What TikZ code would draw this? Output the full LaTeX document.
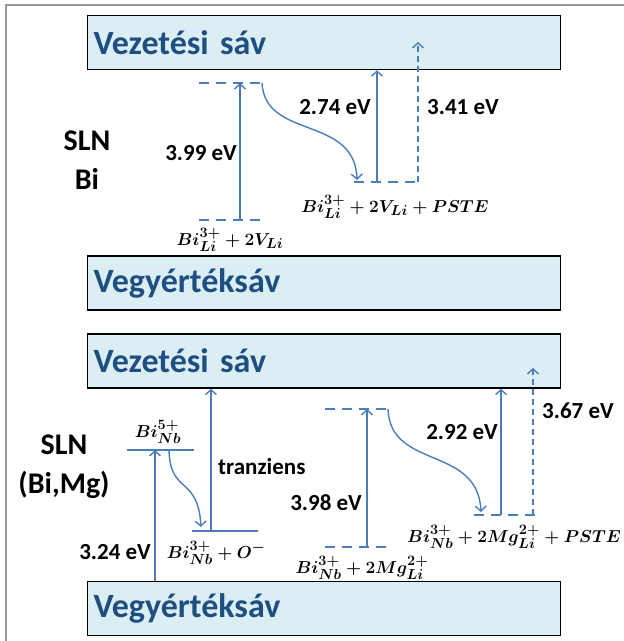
\documentclass[tikz,border=0pt]{standalone}
\usepackage{amsmath, amssymb}
\usepackage[no-math]{fontspec}
\setmainfont{Carlito}
\usepackage{tikz}
\usetikzlibrary{arrows.meta}
\definecolor{bandfill}{HTML}{DAEEF3}
\definecolor{bandtext}{HTML}{1F4E80}
\definecolor{lvl}{HTML}{4A7EBB}
\newcommand{\bandfont}{\fontsize{34}{38}\selectfont\bfseries\spaceskip 0.04em\relax}
\tikzset{
    x=1pt,
    y=-1pt,
    band/.style = {
        draw,
        shape=rectangle,
        fill=bandfill,
        line width=1.5pt,
        minimum width=473pt,
        minimum height=54pt,
        inner xsep=6pt,
        text width=461pt,
        align=left,
        text=bandtext,
        font=\bandfont
    },
    level/.style = {
        draw=lvl,
        line width=2.5pt
    },
    dlevel/.style = {
        level,
        dash pattern=on 10pt off 7pt
    },
    trans/.style = {
        draw=lvl,
        line width=1.4pt
    },
    dtrans/.style = {
        trans,
        dash pattern=on 6pt off 4pt
    },
    lbl/.style = {
        inner sep=0pt,
        font=\fontsize{23}{26}\selectfont\bfseries
    },
    sample/.style = {
        inner sep=0pt,
        align=center,
        font=\fontsize{30}{39}\selectfont\bfseries
    },
    formula/.style = {
        inner sep=0pt,
        anchor=base,
        font=\fontsize{19}{22}\selectfont\boldmath
    },
    >={Straight Barb[length=5pt,width=11pt]},
}
\begin{document}
\begin{tikzpicture}
    \useasboundingbox (0,0) rectangle (624,641);
    \draw[gray!80, line width=2pt] (6,641) -- (6,5) -- (624,5);

    % SLN Bi
    \node[band] (cond1) at (324,42.5) {Vezetési sáv};
    \node[band] (val1) at (324,283) {Vegyértéksáv};
    \node[sample] (slnbi) at (87,160) {SLN\\Bi};

    \coordinate (upA1) at (199,83);
    \coordinate (upA2) at (265,83);
    \coordinate (loA1) at (199,220);
    \coordinate (loA2) at (265,220);
    \coordinate (rtA1) at (354,182);
    \coordinate (rtA2) at (420,182);
    \coordinate (exA) at (240,83);
    \coordinate (gsA) at (240,220);
    \coordinate (relA) at (262,83);
    \coordinate (stA) at (357,180);
    \coordinate (pl1) at (377,182);
    \coordinate (pl2) at (418,182);
    \coordinate (topA) at (418,42);

    \path[dlevel] (upA1) -- (upA2);
    \path[dlevel] (loA1) -- (loA2);
    \path[dlevel] (rtA1) -- (rtA2);

    \path[trans, ->] (gsA) -- (exA);
    \path[trans, ->] (relA) .. controls (265,140) and (355,115) .. (stA);
    \path[trans, ->] (pl1) -- (pl1 |- cond1.south);
    \path[dtrans, ->] (pl2) -- (topA);

    \node[lbl, anchor=east] (e399) at (237,153) {3.99 eV};
    \node[lbl, anchor=east] (e274) at (371,107) {2.74 eV};
    \node[lbl, anchor=west] (e341) at (427,107) {3.41 eV};
    \node[formula] (defA) at (230,245) {$Bi_{Li}^{3+}+2V_{Li}$};
    \node[formula] (defB) at (395,212) {$Bi_{Li}^{3+}+2V_{Li}+PSTE$};

    % SLN (Bi,Mg)
    \node[band] (cond2) at (324,361) {Vezetési sáv};
    \node[band] (val2) at (324,608.5) {Vegyértéksáv};
    \node[sample] (slnbimg) at (64,467) {SLN\\(Bi,Mg)};

    \coordinate (nb5a) at (127,450);
    \coordinate (nb5b) at (194,450);
    \coordinate (oma) at (192,531);
    \coordinate (omb) at (258,531);
    \coordinate (upB1) at (325,409);
    \coordinate (upB2) at (392,409);
    \coordinate (loB1) at (325,547);
    \coordinate (loB2) at (392,547);
    \coordinate (rtB1) at (474,515);
    \coordinate (rtB2) at (540,515);
    \coordinate (exB) at (155,450);
    \coordinate (relB) at (169,450);
    \coordinate (omt) at (201,527);
    \coordinate (tr) at (211,531);
    \coordinate (exC) at (367,409);
    \coordinate (gsC) at (367,547);
    \coordinate (relC) at (388,409);
    \coordinate (stC) at (481,512);
    \coordinate (pl3) at (501,515);
    \coordinate (pl4) at (533,515);
    \coordinate (topB) at (533,368);

    \path[level] (nb5a) -- (nb5b);
    \path[level] (oma) -- (omb);
    \path[dlevel] (upB1) -- (upB2);
    \path[dlevel] (loB1) -- (loB2);
    \path[dlevel] (rtB1) -- (rtB2);

    \path[trans, ->] (exB |- val2.north) -- (exB);
    \path[trans, ->] (relB) .. controls (170,495) and (198,475) .. (omt);
    \path[trans, ->] (tr) -- (tr |- cond2.south);
    \path[trans, ->] (gsC) -- (exC);
    \path[trans, ->] (relC) .. controls (390,470) and (478,445) .. (stC);
    \path[trans, ->] (pl3) -- (pl3 |- cond2.south);
    \path[dtrans, ->] (pl4) -- (topB);

    \node[formula] (bi5) at (158,437) {$Bi_{Nb}^{5+}$};
    \node[lbl, anchor=east] (e324) at (151,552) {3.24 eV};
    \node[lbl, anchor=west] (tranz) at (218,467) {tranziens};
    \node[lbl, anchor=east] (e398) at (362,503) {3.98 eV};
    \node[lbl, anchor=east] (e292) at (498,432) {2.92 eV};
    \node[lbl, anchor=west] (e367) at (542,411) {3.67 eV};
    \node[formula] (defC) at (216,558) {$Bi_{Nb}^{3+}+O^{-}$};
    \node[formula] (defD) at (362,573) {$Bi_{Nb}^{3+}+2Mg_{Li}^{2+}$};
    \node[formula, anchor=base east] (defE) at (621,542) {$Bi_{Nb}^{3+}+2Mg_{Li}^{2+}+PSTE$};
\end{tikzpicture}
\end{document}
